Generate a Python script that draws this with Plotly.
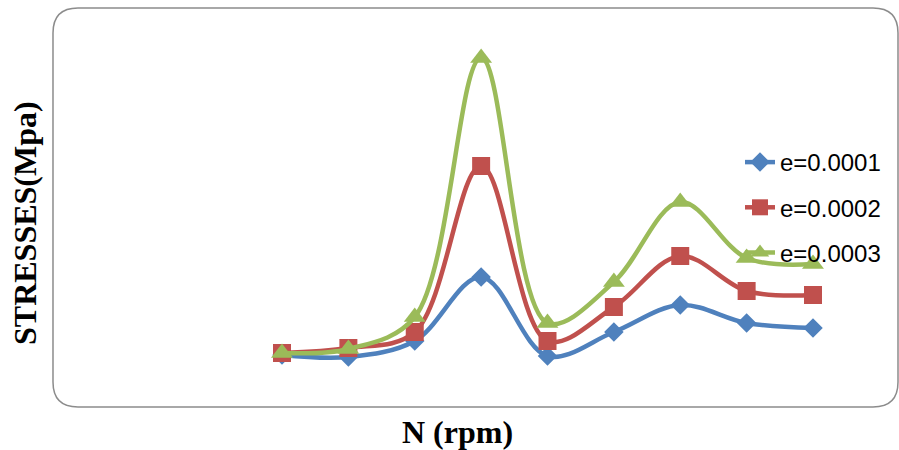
import plotly.graph_objects as go

# Data (arbitrary stress units; no tick labels in the original)
speeds = [1, 2, 3, 4, 5, 6, 7, 8, 9]
stress_e1 = [17, 15, 31, 95, 16, 40, 67, 49, 44]
stress_e2 = [19, 24, 40, 206, 31, 65, 116, 81, 77]
stress_e3 = [19, 23, 55, 314, 49, 90, 170, 114, 108]
series_names = ["e=0.0001", "e=0.0002", "e=0.0003"]

W, H = 899, 450
# pixel geometry of the picture
x0_px, dx_px = 282, 66.375
y_zero_px = 372  # value 0 at this pixel row (1 unit = 1 px)

def px_x(p):
    return p / W

def px_y(p):
    return 1 - p / H

xr = [speeds[0] + (0 - x0_px) / dx_px, speeds[0] + (W - x0_px) / dx_px]
yr = [y_zero_px - H, y_zero_px]

colors = ["#4F81BD", "#C0504D", "#9BBB59"]
symbols = ["diamond", "square", "triangle-up"]
sizes = [15, 18, 19]
data = [stress_e1, stress_e2, stress_e3]

fig = go.Figure()
for i in range(3):
    fig.add_trace(go.Scatter(
        x=speeds, y=data[i], name=series_names[i], mode="lines+markers",
        line=dict(color=colors[i], width=4.5, shape="spline", smoothing=1.0),
        marker=dict(symbol=symbols[i], size=sizes[i], color=colors[i]),
        legendgroup=f"g{i}",
    ))

# rounded rectangle frame
L, T, R, B, r = 53, 8, 898, 407, 25
def P(x, y):
    return f"{px_x(x):.5f},{px_y(y):.5f}"
path = (f"M {P(L + r, T)} L {P(R - r, T)} Q {P(R, T)} {P(R, T + r)} "
        f"L {P(R, B - r)} Q {P(R, B)} {P(R - r, B)} "
        f"L {P(L + r, B)} Q {P(L, B)} {P(L, B - r)} "
        f"L {P(L, T + r)} Q {P(L, T)} {P(L + r, T)} Z")
fig.add_shape(type="path", path=path, xref="paper", yref="paper",
              line=dict(color="#8C8C8C", width=1.5), layer="below")

title_font = dict(family="Liberation Serif, Times New Roman, serif", size=32, color="black")
fig.add_annotation(text="<b>STRESSES(Mpa)</b>", x=px_x(25), y=px_y(223), xref="paper", yref="paper",
                   textangle=-90, showarrow=False, font=title_font, xanchor="center", yanchor="middle")
fig.add_annotation(text="<b>N (rpm)</b>", x=px_x(457), y=px_y(432), xref="paper", yref="paper",
                   showarrow=False, font=title_font, xanchor="center", yanchor="middle")

fig.update_layout(
    width=W, height=H, margin=dict(l=0, r=0, t=0, b=0),
    paper_bgcolor="white", plot_bgcolor="white",
    xaxis=dict(range=xr, visible=False, fixedrange=True),
    yaxis=dict(range=yr, visible=False, fixedrange=True),
    legend=dict(x=px_x(740), y=px_y(140), xanchor="left", yanchor="top",
                font=dict(family="Liberation Sans, Arial, sans-serif", size=24, color="black"),
                traceorder="grouped", tracegroupgap=11, bgcolor="rgba(0,0,0,0)"),
    showlegend=True,
)

fig.write_html("out.html")
